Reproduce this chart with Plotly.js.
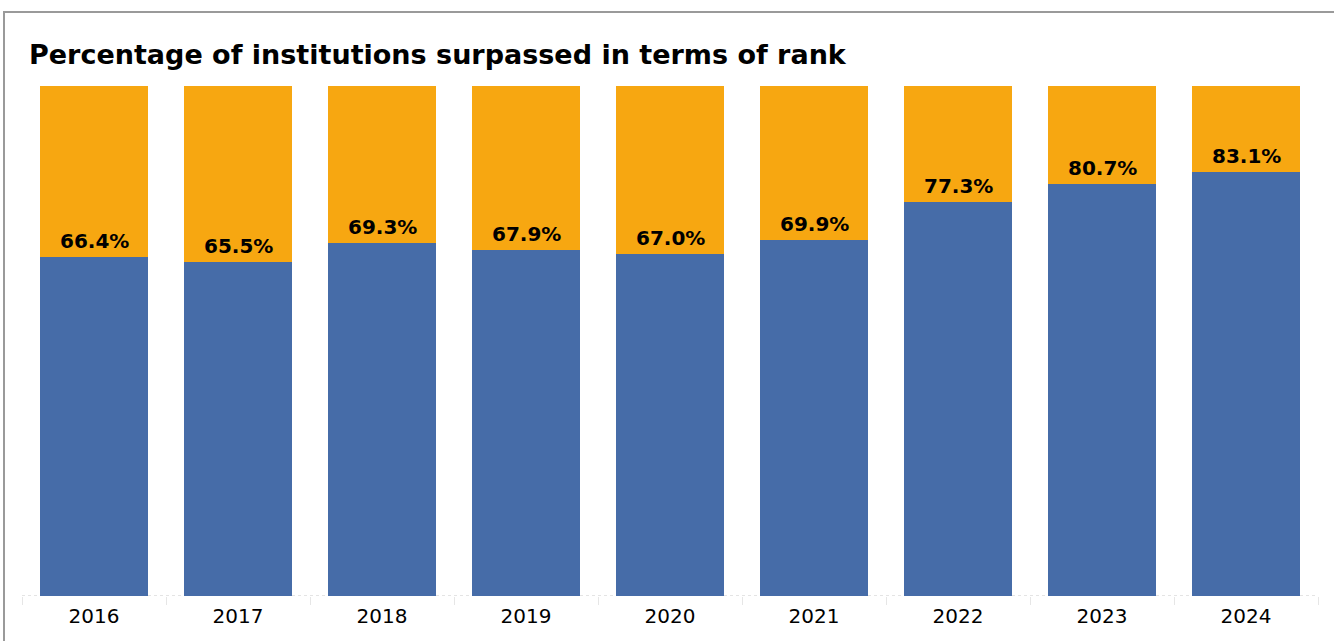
<!DOCTYPE html>
<html>
<head>
<meta charset="utf-8">
<script src="https://cdn.plot.ly/plotly-3.0.1.min.js"></script>
<style>
  html, body { margin: 0; padding: 0; background: #fff; overflow: hidden; }
  #frame { position: absolute; left: 3px; top: 11px; width: 1400px; height: 700px; border: 2px solid #9a9a9a; box-sizing: border-box; }
  #chart { position: absolute; left: 0; top: 0; width: 1334px; height: 641px; }
</style>
</head>
<body>
<div id="frame"></div>
<div id="chart"></div>
<script>
const years = ['2016', '2017', '2018', '2019', '2020', '2021', '2022', '2023', '2024'];
const surpassed = [66.4, 65.5, 69.3, 67.9, 67.0, 69.9, 77.3, 80.7, 83.1];
const remainder = surpassed.map(v => +(100 - v).toFixed(1));
const labels = surpassed.map(v => v.toFixed(1) + '%');

const blue = '#466ca8';
const orange = '#f7a711';

const traces = [
  { type: 'bar', x: years, y: surpassed, marker: { color: blue }, hoverinfo: 'skip', name: 'Surpassed' },
  { type: 'bar', x: years, y: remainder, marker: { color: orange }, hoverinfo: 'skip', name: 'Rest' }
];

// category axis: annotation x uses the category's serial index
const annotations = years.map((yr, i) => ({
  x: i, y: surpassed[i], xref: 'x', yref: 'y',
  text: '<b>' + labels[i] + '</b>', showarrow: false,
  yanchor: 'bottom', yshift: 2,
  font: { family: 'DejaVu Sans', size: 20, color: '#000' }
}));

const layout = {
  width: 1334, height: 641,
  margin: { l: 22, r: 16, t: 86, b: 45 },
  paper_bgcolor: 'rgba(0,0,0,0)', plot_bgcolor: 'rgba(0,0,0,0)',
  barmode: 'stack', bargap: 0.25, showlegend: false,
  title: {
    text: '<b>Percentage of institutions surpassed in terms of rank</b>',
    xref: 'container', yref: 'container', x: 29 / 1334, xanchor: 'left',
    y: 1 - 55 / 641, yanchor: 'middle',
    font: { family: 'DejaVu Sans', size: 27, color: '#000' }
  },
  xaxis: {
    type: 'category', showgrid: false, zeroline: false, showline: false,
    ticks: 'outside', tickson: 'boundaries', ticklen: 8, tickcolor: '#e6e6e6', tickwidth: 1,
    ticklabelstandoff: 6,
    tickfont: { family: 'DejaVu Sans', size: 20, color: '#000' }
  },
  yaxis: {
    range: [0, 100], tickvals: [100], showticklabels: false, showgrid: true,
    gridcolor: '#eeeeee', zeroline: false, showline: false, fixedrange: true
  },
  shapes: [{
    type: 'line', xref: 'paper', yref: 'y', x0: 0, x1: 1, y0: 0, y1: 0,
    line: { color: '#c8c8c8', width: 1, dash: 'dot' }, layer: 'below'
  }],
  annotations: annotations
};

Plotly.newPlot('chart', traces, layout, { displayModeBar: false, staticPlot: true });
</script>
</body>
</html>
